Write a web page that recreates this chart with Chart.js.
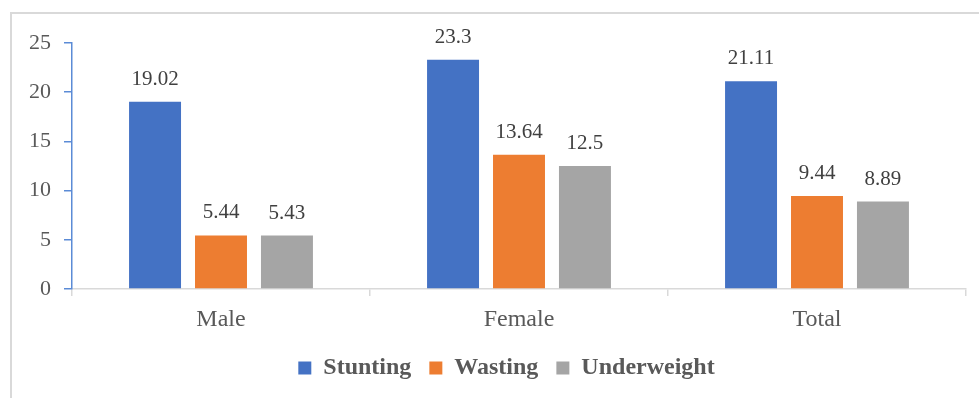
<!DOCTYPE html>
<html>
<head>
<meta charset="utf-8">
<script src="https://cdn.jsdelivr.net/npm/chart.js@4/dist/chart.umd.min.js"></script>
<style>
  html, body { margin: 0; padding: 0; background: #fff; }
  body { width: 979px; height: 398px; position: relative; overflow: hidden; }
  .frame {
    position: absolute; left: 10px; top: 12px; width: 990px; height: 400px;
    border-left: 2px solid #d9d9d9; border-top: 2px solid #d9d9d9;
  }
  .wrap { position: absolute; left: 0; top: 0; width: 979px; height: 398px; }
</style>
</head>
<body>
<div class="frame"></div>
<div class="wrap"><canvas id="chart" width="979" height="398"></canvas></div>
<script>
// Prevalence by sex (%)
const categories = ['Male', 'Female', 'Total'];
const stunting = [19.02, 23.3, 21.11];
const wasting = [5.44, 13.64, 9.44];
const underweight = [5.43, 12.5, 8.89];
const yTicks = [0, 5, 10, 15, 20, 25];

const SERIF = '"Liberation Serif", "Times New Roman", serif';

// Writes each bar's value above it
const valueLabels = {
  id: 'valueLabels',
  afterDatasetsDraw(chart) {
    const ctx = chart.ctx;
    ctx.save();
    ctx.font = '21px ' + SERIF;
    ctx.fillStyle = '#404040';
    ctx.textAlign = 'center';
    ctx.textBaseline = 'alphabetic';
    chart.data.datasets.forEach((ds, di) => {
      chart.getDatasetMeta(di).data.forEach((bar, i) => {
        ctx.fillText(String(ds.data[i]), bar.x, bar.y - 17);
      });
    });
    ctx.restore();
  }
};

// Nudges the legend row to the right
const legendShift = {
  id: 'legendShift',
  afterLayout(chart) {
    const lg = chart.legend;
    if (lg) { lg.left += 10; lg.right += 10; }
  }
};

new Chart(document.getElementById('chart'), {
  type: 'bar',
  data: {
    labels: categories,
    datasets: [
      { label: 'Stunting', data: stunting, backgroundColor: '#4472C4' },
      { label: 'Wasting', data: wasting, backgroundColor: '#ED7D31' },
      { label: 'Underweight', data: underweight, backgroundColor: '#A5A5A5' }
    ]
  },
  options: {
    responsive: false,
    animation: false,
    devicePixelRatio: 1,
    categoryPercentage: 0.664,
    barPercentage: 0.788,
    layout: { padding: { left: 27, right: 13, top: 43, bottom: 8 } },
    plugins: {
      tooltip: { enabled: false },
      legend: {
        position: 'bottom',
        labels: {
          font: { family: SERIF, size: 24, weight: 'bold' },
          color: '#595959',
          boxWidth: 13,
          boxHeight: 13,
          padding: 18
        }
      }
    },
    scales: {
      x: {
        grid: {
          drawOnChartArea: false,
          color: '#d9d9d9',
          tickLength: 7,
          lineWidth: 1.5
        },
        border: { color: '#d9d9d9', width: 1.5 },
        ticks: {
          font: { family: SERIF, size: 24 },
          color: '#595959',
          padding: 9
        },
        afterFit(scale) { scale.height = 49; }
      },
      y: {
        min: 0,
        max: 25,
        afterBuildTicks(scale) { scale.ticks = yTicks.map(v => ({ value: v })); },
        grid: {
          drawOnChartArea: false,
          color: '#5B8BD6',
          tickLength: 8,
          lineWidth: 1.5
        },
        border: { color: '#5B8BD6', width: 1.5 },
        ticks: {
          font: { family: SERIF, size: 22 },
          color: '#595959',
          padding: 13
        },
        afterFit(scale) { scale.width = 45; }
      }
    }
  },
  plugins: [valueLabels, legendShift]
});
</script>
</body>
</html>
